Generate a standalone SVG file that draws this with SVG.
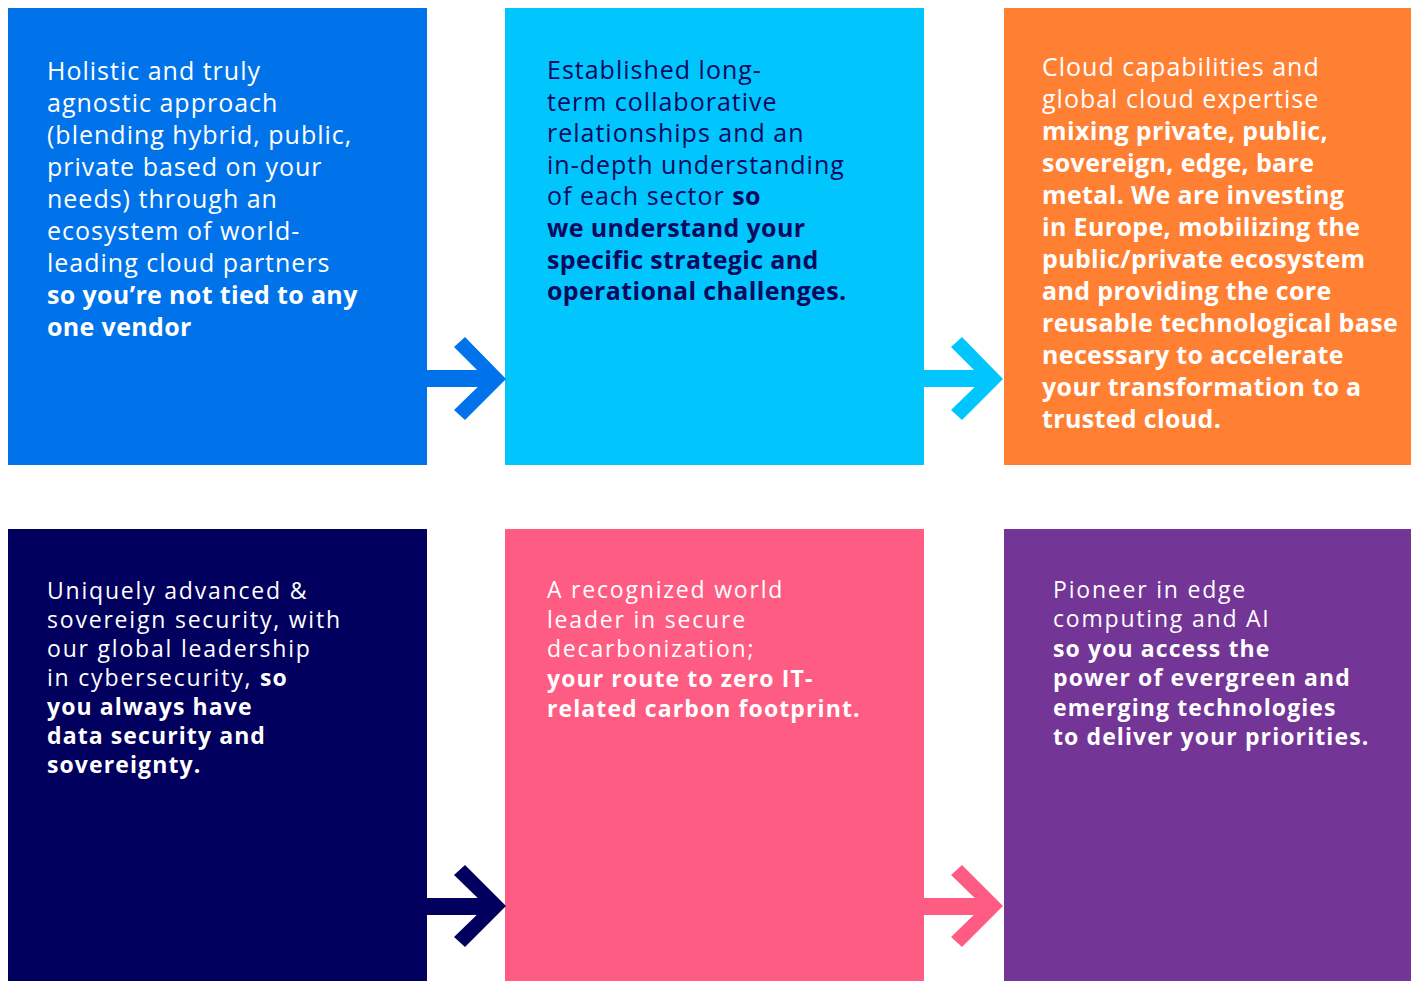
<svg xmlns="http://www.w3.org/2000/svg" width="1411" height="981" viewBox="0 0 1411 981">
<style>
text{font-family:"Open Sans","Noto Sans",sans-serif;}
.r1{font-size:25px;letter-spacing:1px;}
.r1 .b{letter-spacing:0.35px;}
.r2{font-size:23px;letter-spacing:1.8px;}
.r2 .b{letter-spacing:1.1px;}
.w{fill:#ffffff;}
.d{fill:#0A0A5E;}
.b{font-weight:700;}
</style>
<rect width="1411" height="981" fill="#ffffff"/>
<g id="box1">
<rect x="8" y="8" width="419" height="457" fill="#0073EA"/>
<text class="r1 w" x="47" y="80">
<tspan x="47" y="80">Holistic and truly</tspan>
<tspan x="47" y="112">agnostic approach</tspan>
<tspan x="47" y="144">(blending hybrid, public,</tspan>
<tspan x="47" y="176">private based on your</tspan>
<tspan x="47" y="208">needs) through an</tspan>
<tspan x="47" y="240">ecosystem of world-</tspan>
<tspan x="47" y="272">leading cloud partners</tspan>
<tspan class="b" x="47" y="304">so you’re not tied to any</tspan>
<tspan class="b" x="47" y="336">one vendor</tspan>
</text>
</g>
<g id="box2">
<rect x="505" y="8" width="419" height="457" fill="#00C6FD"/>
<text class="r1 d" x="547" y="79">
<tspan x="547" y="79">Established long-</tspan>
<tspan x="547" y="111">term collaborative</tspan>
<tspan x="547" y="142">relationships and an</tspan>
<tspan x="547" y="174">in-depth understanding</tspan>
<tspan x="547" y="205">of each sector <tspan class="b">so</tspan></tspan>
<tspan class="b" x="547" y="237">we understand your</tspan>
<tspan class="b" x="547" y="269">specific strategic and</tspan>
<tspan class="b" x="547" y="300">operational challenges.</tspan>
</text>
</g>
<g id="box3">
<rect x="1004" y="8" width="407" height="457" fill="#FF8033"/>
<text class="r1 w" x="1042" y="76">
<tspan x="1042" y="76">Cloud capabilities and</tspan>
<tspan x="1042" y="108">global cloud expertise</tspan>
<tspan class="b" x="1042" y="140">mixing private, public,</tspan>
<tspan class="b" x="1042" y="172">sovereign, edge, bare</tspan>
<tspan class="b" x="1042" y="204">metal. We are investing</tspan>
<tspan class="b" x="1042" y="236">in Europe, mobilizing the</tspan>
<tspan class="b" x="1042" y="268">public/private ecosystem</tspan>
<tspan class="b" x="1042" y="300">and providing the core</tspan>
<tspan class="b" x="1042" y="332">reusable technological base</tspan>
<tspan class="b" x="1042" y="364">necessary to accelerate</tspan>
<tspan class="b" x="1042" y="396">your transformation to a</tspan>
<tspan class="b" x="1042" y="428">trusted cloud.</tspan>
</text>
</g>
<g id="box4">
<rect x="8" y="529" width="419" height="452" fill="#02005E"/>
<text class="r2 w" x="47" y="599">
<tspan x="47" y="599">Uniquely advanced &amp;</tspan>
<tspan x="47" y="628">sovereign security, with</tspan>
<tspan x="47" y="657">our global leadership</tspan>
<tspan x="47" y="686">in cybersecurity, <tspan class="b">so</tspan></tspan>
<tspan class="b" x="47" y="715">you always have</tspan>
<tspan class="b" x="47" y="744">data security and</tspan>
<tspan class="b" x="47" y="773">sovereignty.</tspan>
</text>
</g>
<g id="box5">
<rect x="505" y="529" width="419" height="452" fill="#FF5C84"/>
<text class="r2 w" x="547" y="598">
<tspan x="547" y="598">A recognized world</tspan>
<tspan x="547" y="628">leader in secure</tspan>
<tspan x="547" y="657">decarbonization;</tspan>
<tspan class="b" x="547" y="687">your route to zero IT-</tspan>
<tspan class="b" x="547" y="717">related carbon footprint.</tspan>
</text>
</g>
<g id="box6">
<rect x="1004" y="529" width="407" height="452" fill="#733596"/>
<text class="r2 w" x="1053" y="598">
<tspan x="1053" y="598">Pioneer in edge</tspan>
<tspan x="1053" y="627">computing and AI</tspan>
<tspan class="b" x="1053" y="657">so you access the</tspan>
<tspan class="b" x="1053" y="686">power of evergreen and</tspan>
<tspan class="b" x="1053" y="716">emerging technologies</tspan>
<tspan class="b" x="1053" y="745">to deliver your priorities.</tspan>
</text>
</g>
<g id="connectors">
<g fill="#0073EA">
<rect x="427" y="370" width="62" height="17"/>
<polygon points="465,337 506,379 465,420 454,410 486,379 454,347"/>
</g>
<g fill="#00C6FD">
<rect x="924" y="370" width="62" height="17"/>
<polygon points="962,337 1003,379 962,420 951,410 983,379 951,347"/>
</g>
<g fill="#02005E">
<rect x="427" y="898" width="62" height="17"/>
<polygon points="465,865 506,906 465,947 454,937 486,906 454,875"/>
</g>
<g fill="#FF5C84">
<rect x="924" y="898" width="62" height="17"/>
<polygon points="962,865 1003,906 962,947 951,937 983,906 951,875"/>
</g>
</g>
</svg>
